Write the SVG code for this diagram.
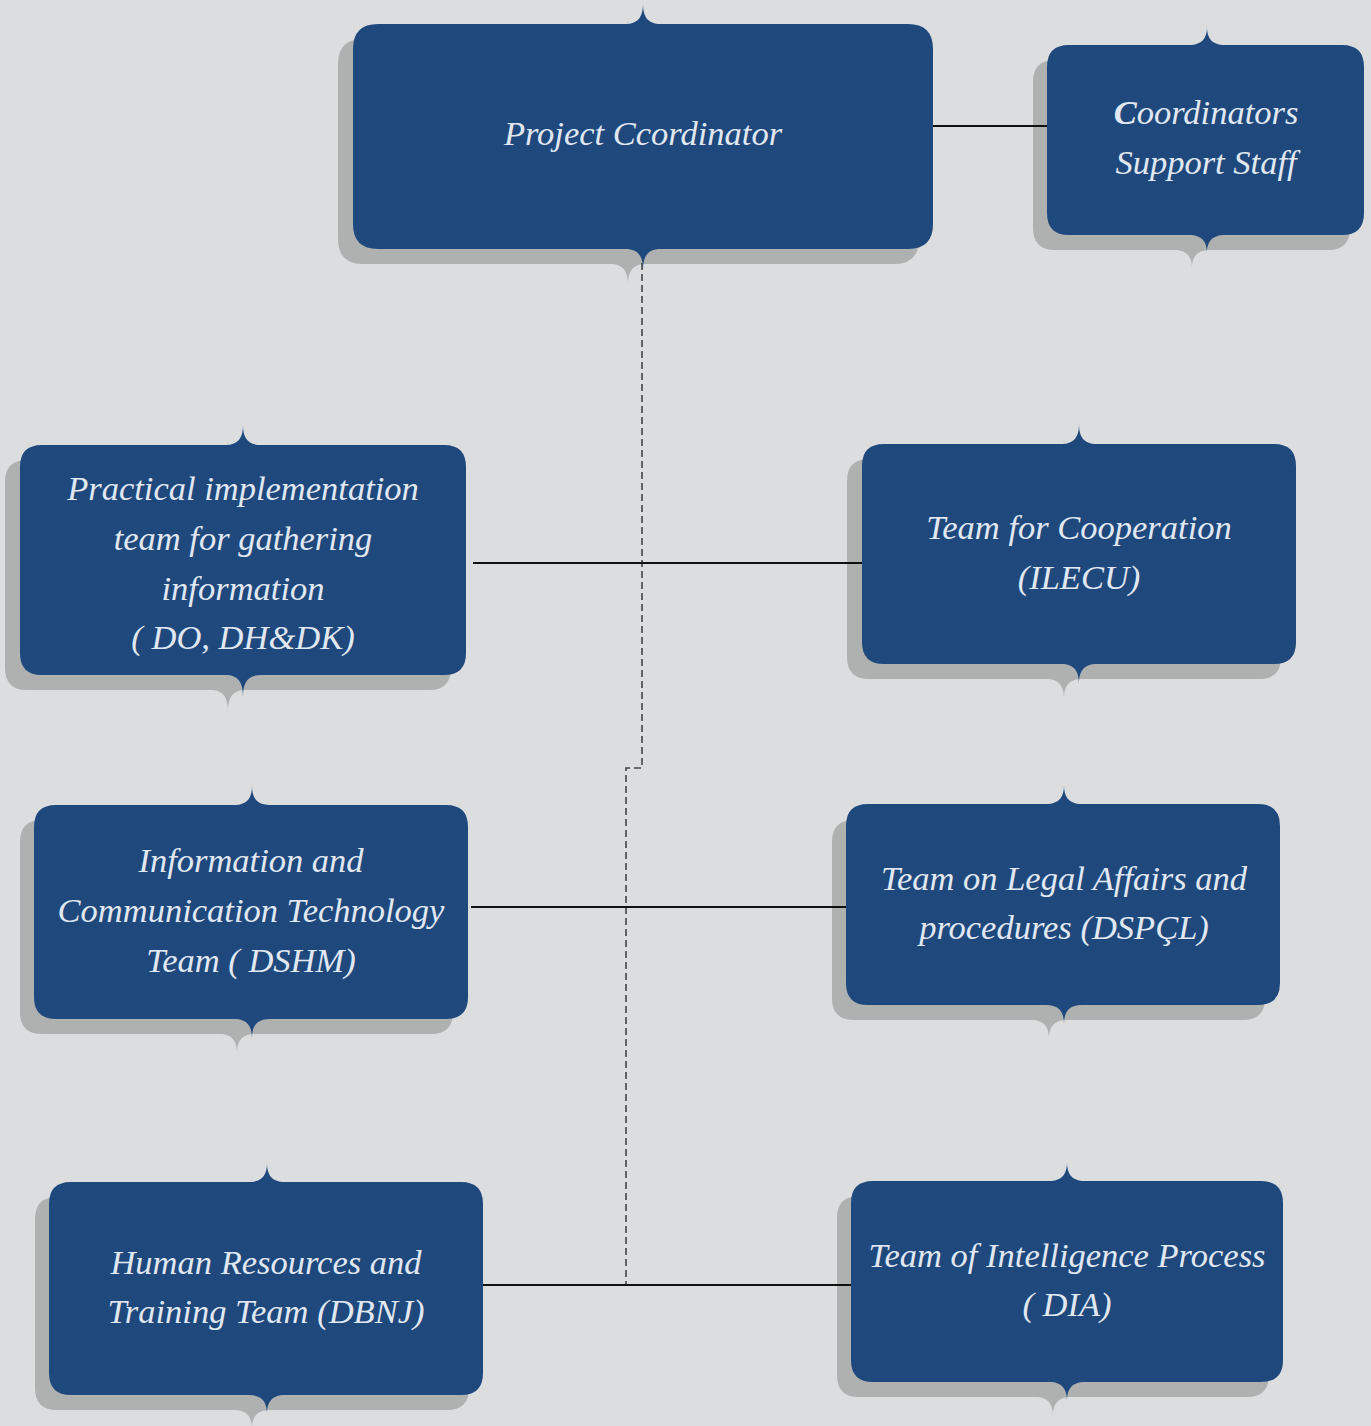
<svg xmlns="http://www.w3.org/2000/svg" width="1371" height="1426" viewBox="0 0 1371 1426">
<style>
.bg{fill:#dcdddf}
.shadow{fill:#afb0b0}
.box{fill:#1f497d}
.t{fill:#e1e8f2;font-family:"Liberation Serif","DejaVu Serif",serif;font-style:italic;font-size:34.5px;text-anchor:middle}
.solid{stroke:#111;stroke-width:2;fill:none}
.dash{stroke:#444;stroke-width:1.6;fill:none;stroke-dasharray:7 4}
</style>
<rect class="bg" x="0" y="0" width="1371" height="1426"/>
<g id="shadows">
<path class="shadow" d="M363,39 L610,39 C624,39 628,31 628,18 C628,31 632,39 646,39 L894,39 Q919,39 919,64 L919,239 Q919,264 894,264 L646,264 C632,264 628,272 628,285 C628,272 624,264 610,264 L363,264 Q338,264 338,239 L338,64 Q338,39 363,39 Z"/>
<path class="shadow" d="M1055,60 L1174,60 C1188,60 1192,52 1192,42 C1192,52 1196,60 1210,60 L1328,60 Q1350,60 1350,82 L1350,228 Q1350,250 1328,250 L1210,250 C1196,250 1192,258 1192,268 C1192,258 1188,250 1174,250 L1055,250 Q1033,250 1033,228 L1033,82 Q1033,60 1055,60 Z"/>
<path class="shadow" d="M27,460 L210,460 C224,460 228,452 228,440 C228,452 232,460 246,460 L429,460 Q451,460 451,482 L451,668 Q451,690 429,690 L246,690 C232,690 228,698 228,712 C228,698 224,690 210,690 L27,690 Q5,690 5,668 L5,482 Q5,460 27,460 Z"/>
<path class="shadow" d="M869,459 L1046,459 C1060,459 1064,451 1064,439 C1064,451 1068,459 1082,459 L1259,459 Q1281,459 1281,481 L1281,657 Q1281,679 1259,679 L1082,679 C1068,679 1064,687 1064,699 C1064,687 1060,679 1046,679 L869,679 Q847,679 847,657 L847,481 Q847,459 869,459 Z"/>
<path class="shadow" d="M42,820 L219,820 C233,820 237,812 237,801 C237,812 241,820 255,820 L431,820 Q453,820 453,842 L453,1012 Q453,1034 431,1034 L255,1034 C241,1034 237,1042 237,1053 C237,1042 233,1034 219,1034 L42,1034 Q20,1034 20,1012 L20,842 Q20,820 42,820 Z"/>
<path class="shadow" d="M854,820 L1031,820 C1045,820 1049,812 1049,801 C1049,812 1053,820 1067,820 L1243,820 Q1265,820 1265,842 L1265,998 Q1265,1020 1243,1020 L1067,1020 C1053,1020 1049,1028 1049,1039 C1049,1028 1045,1020 1031,1020 L854,1020 Q832,1020 832,998 L832,842 Q832,820 854,820 Z"/>
<path class="shadow" d="M57,1197 L234,1197 C248,1197 252,1189 252,1178 C252,1189 256,1197 270,1197 L447,1197 Q469,1197 469,1219 L469,1388 Q469,1410 447,1410 L270,1410 C256,1410 252,1418 252,1429 C252,1418 248,1410 234,1410 L57,1410 Q35,1410 35,1388 L35,1219 Q35,1197 57,1197 Z"/>
<path class="shadow" d="M859,1196 L1035,1196 C1049,1196 1053,1188 1053,1177 C1053,1188 1057,1196 1071,1196 L1247,1196 Q1269,1196 1269,1218 L1269,1375 Q1269,1397 1247,1397 L1071,1397 C1057,1397 1053,1405 1053,1416 C1053,1405 1049,1397 1035,1397 L859,1397 Q837,1397 837,1375 L837,1218 Q837,1196 859,1196 Z"/>
</g>
<g id="connectors">
<line class="solid" x1="933" y1="126" x2="1048" y2="126"/>
<polyline class="dash" points="642,263 642,768 626,768 626,1285"/>
<line class="solid" x1="473" y1="563" x2="865" y2="563"/>
<line class="solid" x1="471" y1="907" x2="848" y2="907"/>
<line class="solid" x1="483" y1="1285" x2="851" y2="1285"/>
</g>
<g id="project-coordinator">
<path class="box" d="M378,24 L625,24 C639,24 643,16 643,3 C643,16 647,24 661,24 L908,24 Q933,24 933,49 L933,224 Q933,249 908,249 L661,249 C647,249 643,257 643,270 C643,257 639,249 625,249 L378,249 Q353,249 353,224 L353,49 Q353,24 378,24 Z"/>
<text class="t" x="643" y="145">Project Ccordinator</text>
</g>
<g id="coordinators-support-staff">
<path class="box" d="M1069,45 L1189,45 C1203,45 1207,37 1207,27 C1207,37 1211,45 1225,45 L1342,45 Q1364,45 1364,67 L1364,213 Q1364,235 1342,235 L1225,235 C1211,235 1207,243 1207,253 C1207,243 1203,235 1189,235 L1069,235 Q1047,235 1047,213 L1047,67 Q1047,45 1069,45 Z"/>
<text class="t" x="1206" y="124"><tspan font-weight="bold">C</tspan>oordinators</text>
<text class="t" x="1206" y="174">Support Staff</text>
</g>
<g id="practical-implementation-team">
<path class="box" d="M42,445 L225,445 C239,445 243,437 243,425 C243,437 247,445 261,445 L444,445 Q466,445 466,467 L466,653 Q466,675 444,675 L261,675 C247,675 243,683 243,697 C243,683 239,675 225,675 L42,675 Q20,675 20,653 L20,467 Q20,445 42,445 Z"/>
<text class="t" x="243" y="500">Practical implementation</text>
<text class="t" x="243" y="550">team for gathering</text>
<text class="t" x="243" y="600">information</text>
<text class="t" x="243" y="649">( DO, DH&amp;DK)</text>
</g>
<g id="team-for-cooperation">
<path class="box" d="M884,444 L1061,444 C1075,444 1079,436 1079,424 C1079,436 1083,444 1097,444 L1274,444 Q1296,444 1296,466 L1296,642 Q1296,664 1274,664 L1097,664 C1083,664 1079,672 1079,684 C1079,672 1075,664 1061,664 L884,664 Q862,664 862,642 L862,466 Q862,444 884,444 Z"/>
<text class="t" x="1079" y="539">Team for Cooperation</text>
<text class="t" x="1079" y="589">(ILECU)</text>
</g>
<g id="ict-team">
<path class="box" d="M56,805 L234,805 C248,805 252,797 252,786 C252,797 256,805 270,805 L446,805 Q468,805 468,827 L468,997 Q468,1019 446,1019 L270,1019 C256,1019 252,1027 252,1038 C252,1027 248,1019 234,1019 L56,1019 Q34,1019 34,997 L34,827 Q34,805 56,805 Z"/>
<text class="t" x="251" y="872">Information and</text>
<text class="t" x="251" y="922">Communication Technology</text>
<text class="t" x="251" y="972">Team ( DSHM)</text>
</g>
<g id="legal-affairs-team">
<path class="box" d="M868,804 L1046,804 C1060,804 1064,796 1064,785 C1064,796 1068,804 1082,804 L1258,804 Q1280,804 1280,826 L1280,983 Q1280,1005 1258,1005 L1082,1005 C1068,1005 1064,1013 1064,1024 C1064,1013 1060,1005 1046,1005 L868,1005 Q846,1005 846,983 L846,826 Q846,804 868,804 Z"/>
<text class="t" x="1064" y="890">Team on Legal Affairs and</text>
<text class="t" x="1064" y="939">procedures (DSPÇL)</text>
</g>
<g id="hr-training-team">
<path class="box" d="M71,1182 L249,1182 C263,1182 267,1174 267,1163 C267,1174 271,1182 285,1182 L461,1182 Q483,1182 483,1204 L483,1373 Q483,1395 461,1395 L285,1395 C271,1395 267,1403 267,1414 C267,1403 263,1395 249,1395 L71,1395 Q49,1395 49,1373 L49,1204 Q49,1182 71,1182 Z"/>
<text class="t" x="266" y="1274">Human Resources and</text>
<text class="t" x="266" y="1323">Training Team (DBNJ)</text>
</g>
<g id="intelligence-process-team">
<path class="box" d="M873,1181 L1049,1181 C1063,1181 1067,1173 1067,1162 C1067,1173 1071,1181 1085,1181 L1261,1181 Q1283,1181 1283,1203 L1283,1360 Q1283,1382 1261,1382 L1085,1382 C1071,1382 1067,1390 1067,1401 C1067,1390 1063,1382 1049,1382 L873,1382 Q851,1382 851,1360 L851,1203 Q851,1181 873,1181 Z"/>
<text class="t" x="1067" y="1267">Team of Intelligence Process</text>
<text class="t" x="1067" y="1316">( DIA)</text>
</g>
</svg>
